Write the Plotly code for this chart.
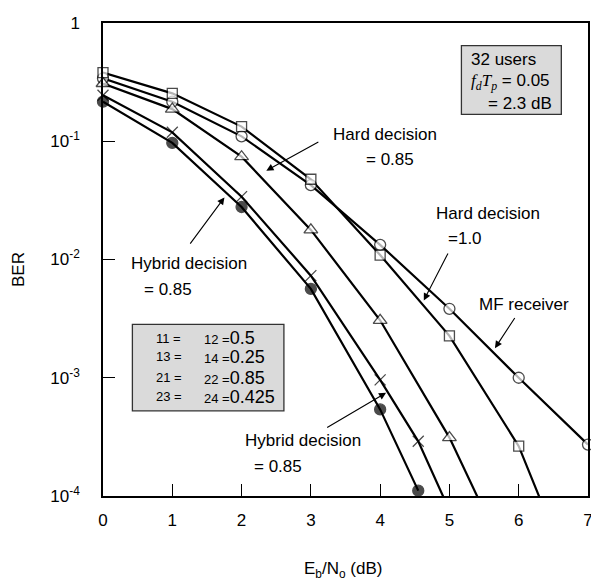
import plotly.graph_objects as go
import math

# ---------------- data ----------------
# MF receiver (open circles)
mf_x = [0, 1, 2, 3, 4, 5, 6, 7]
mf_y = [0.34, 0.216, 0.110, 0.0425, 0.0133, 0.00383, 0.00100, 0.000272]

# Hard decision = 1.0 (open squares); last point lies below the visible range
hd10_x = [0, 1, 2, 3, 4, 5, 6, 7]
hd10_y = [0.381, 0.254, 0.133, 0.0477, 0.0109, 0.00226, 0.000264, 0.0000095]

# Hard decision = 0.85 (open triangles); last point below visible range
hd85_x = [0, 1, 2, 3, 4, 5, 6]
hd85_y = [0.308, 0.187, 0.0740, 0.0178, 0.00306, 0.000312, 0.000018]

# Hybrid decision = 0.85 (crosses); last point below visible range
hyx_x = [0, 1, 2, 3, 4, 4.55, 5.5]
hyx_y = [0.245, 0.119, 0.0340, 0.0073, 0.00096, 0.00029, 0.000017]

# Hybrid decision = 0.85 (filled circles)
hyf_x = [0, 1, 2, 3, 4, 4.55]
hyf_y = [0.216, 0.0968, 0.0278, 0.00564, 0.00054, 0.000111]

x_ticks = [0, 1, 2, 3, 4, 5, 6, 7]
y_tickvals = [1, 0.1, 0.01, 0.001, 0.0001]
y_ticktext = ["1", "10<sup>-1</sup>", "10<sup>-2</sup>", "10<sup>-3</sup>", "10<sup>-4</sup>"]

FONT = "Liberation Sans, Arial, Helvetica, sans-serif"
Y_MIN, Y_MAX = 1e-4, 1.0


def visible_sizes(ys, size):
    return [size if Y_MIN * 0.999 <= v <= Y_MAX else 0 for v in ys]


fig = go.Figure()

# (x, y, symbol, size, fill colour, name)
series = [
    (mf_x, mf_y, "circle", 11, "white", "MF receiver"),
    (hd10_x, hd10_y, "square", 10, "white", "Hard decision =1.0"),
    (hd85_x, hd85_y, "triangle-up", 12, "white", "Hard decision =0.85"),
    (hyx_x, hyx_y, "x-thin", 11, "black", "Hybrid (x)"),
    (hyf_x, hyf_y, "circle", 11, "black", "Hybrid (filled)"),
]

for xs, ys, sym, sz, fill, name in series:
    fig.add_trace(go.Scatter(
        x=xs, y=ys, mode="lines", name=name, showlegend=False,
        line=dict(color="black", width=2.2), hoverinfo="skip"))

for xs, ys, sym, sz, fill, name in series:
    fig.add_trace(go.Scatter(
        x=xs, y=ys, mode="markers", name=name, showlegend=False,
        cliponaxis=False,
        marker=dict(symbol=sym, size=visible_sizes(ys, sz), color=fill,
                    line=dict(color="black", width=1.3))))

annotations = []


def txt(x, y, text, size=17, xanchor="center", xref="x", yref="y", **kw):
    annotations.append(dict(x=x, y=y, xref=xref, yref=yref, text=text, showarrow=False,
                            xanchor=xanchor, yanchor="middle",
                            font=dict(family=FONT, size=size, color="black"), **kw))


def arrow(x_tip, y_tip, x_tail, y_tail):
    annotations.append(dict(x=x_tip, y=math.log10(y_tip), xref="x", yref="y",
                            ax=x_tail, ay=math.log10(y_tail), axref="x", ayref="y",
                            text="", showarrow=True, arrowhead=2, arrowsize=1.3,
                            arrowwidth=1.1, arrowcolor="black", standoff=0, startstandoff=0))


# curve labels (y in log10 units for log axis)
txt(4.07, -0.939, "Hard decision")
txt(4.14, -1.157, "= 0.85")
arrow(2.357, 0.0564, 3.13, 0.100)

txt(5.55, -1.615, "Hard decision")
txt(5.22, -1.825, "=1.0")
arrow(4.63, 0.00450, 4.99, 0.0116)

txt(6.08, -2.383, "MF receiver")
arrow(5.657, 0.00178, 5.957, 0.0033)

txt(1.243, -2.037, "Hybrid decision")
txt(0.943, -2.255, "= 0.85")
arrow(1.753, 0.0335, 1.243, 0.01325)

txt(2.886, -3.529, "Hybrid decision")
txt(2.53, -3.747, "= 0.85")
arrow(4.086, 0.000747, 3.214, 0.000373)

# info box (top right)
txt(0.755, 0.922, "32 users", xanchor="left", xref="paper", yref="paper")
txt(0.755, 0.876,
    "<span style='font-family:Liberation Serif, Times New Roman, serif'><i>f<sub>d</sub>T<sub>p</sub></i></span> = 0.05",
    xanchor="left", xref="paper", yref="paper")
txt(0.790, 0.830, "= 2.3 dB", xanchor="left", xref="paper", yref="paper")

# parameter box (lower left)
box_rows = [("11 =", "12 =", "0.5"), ("13 =", "14 =", "0.25"),
            ("21 =", "22 =", "0.85"), ("23 =", "24 =", "0.425")]
row_y = [0.334, 0.294, 0.250, 0.210]
for (a, b, v), yy in zip(box_rows, row_y):
    txt(0.106, yy, a, size=13, xanchor="left", xref="paper", yref="paper")
    txt(0.204, yy, b + "<span style='font-size:18px'>" + v + "</span>", size=13,
        xanchor="left", xref="paper", yref="paper")

# axis titles
txt(-0.173, 0.478, "BER", size=17, xref="paper", yref="paper", textangle=-90)
txt(0.494, -0.157, "E<sub>b</sub>/N<sub>o</sub> (dB)", size=17, xref="paper", yref="paper")

shapes = [
    dict(type="rect", xref="paper", yref="paper", x0=0.739, x1=0.945, y0=0.807, y1=0.952,
         fillcolor="#dadada", line=dict(color="#333333", width=1.3), layer="below"),
    dict(type="rect", xref="paper", yref="paper", x0=0.0606, x1=0.373, y0=0.180, y1=0.363,
         fillcolor="#dadada", line=dict(color="#333333", width=1.3), layer="below"),
]

# the page body adds an 8px margin, so the figure is sized to fit the window
fig.update_layout(
    width=591, height=572,
    margin=dict(l=95, r=6, t=11, b=84),
    paper_bgcolor="white", plot_bgcolor="white",
    showlegend=False,
    annotations=annotations,
    shapes=shapes,
    font=dict(family=FONT, size=17, color="black"),
)

fig.update_xaxes(
    range=[0, 7], tickvals=x_ticks, ticks="inside", ticklen=12, tickwidth=1.2,
    tickcolor="black", showline=True, linecolor="black", linewidth=1.5, mirror=True,
    showgrid=False, zeroline=False, ticklabelstandoff=8,
    tickfont=dict(family=FONT, size=17, color="black"))

fig.update_yaxes(
    type="log", range=[-4, 0], tickvals=y_tickvals, ticktext=y_ticktext,
    ticks="inside", ticklen=12, tickwidth=1.2, tickcolor="black",
    showline=True, linecolor="black", linewidth=1.5, mirror=True,
    showgrid=False, zeroline=False, ticklabelstandoff=18,
    tickfont=dict(family=FONT, size=17, color="black"))

fig.write_html("out.html")
